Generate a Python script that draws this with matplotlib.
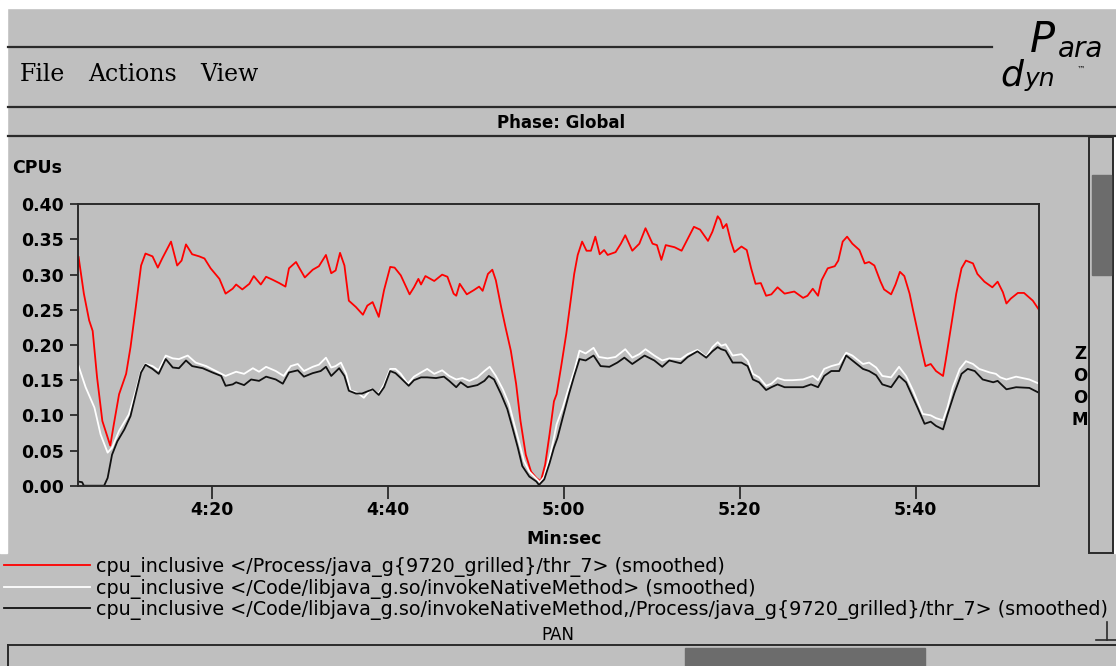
import matplotlib
matplotlib.use("Agg")
import matplotlib.pyplot as plt
from matplotlib.patches import Rectangle
from matplotlib.ticker import FixedLocator, FuncFormatter

# Paradyn histogram: cpu_inclusive, time in seconds since program start
red_t = [244.9, 245.5, 246.1, 246.5, 247.0, 247.6, 248.5, 248.9, 249.5, 250.3, 250.8, 251.4, 252.0, 252.5,
         253.3, 253.9, 254.4, 255.4, 256.1, 256.6, 257.1, 257.8, 258.6, 259.2, 259.9, 260.9, 261.6, 262.4,
         262.8, 263.5, 264.3, 264.8, 265.6, 266.2, 266.9, 267.7, 268.4, 268.8, 269.6, 270.0, 270.6, 271.5,
         272.2, 273.0, 273.6, 274.1, 274.6, 275.1, 275.6, 276.4, 277.2, 277.7, 278.3, 279.0, 279.6, 280.3,
         280.8, 281.5, 282.5, 283.0, 283.5, 283.8, 284.3, 285.3, 286.2, 286.8, 287.5, 287.8, 288.2, 289.0,
         289.8, 290.4, 290.8, 291.4, 291.9, 292.3, 292.9, 293.4, 294.0, 294.6, 295.1, 295.7, 296.3, 296.9,
         297.4, 297.9, 298.4, 298.9, 299.2, 299.7, 300.3, 300.8, 301.2, 301.6, 302.1, 302.6, 303.1, 303.6,
         304.1, 304.6, 305.0, 305.9, 306.5, 307.0, 307.8, 308.6, 309.3, 310.1, 310.6, 311.1, 311.6, 312.6,
         313.4, 314.1, 314.8, 315.5, 316.4, 316.9, 317.5, 317.8, 318.1, 318.5, 319.0, 319.4, 320.2, 320.8,
         321.3, 321.8, 322.4, 323.0, 323.6, 324.3, 325.1, 326.2, 327.2, 327.7, 328.3, 328.9, 329.3, 330.0,
         330.8, 331.2, 331.7, 332.2, 332.8, 333.6, 334.2, 334.7, 335.3, 335.6, 336.0, 336.4, 337.2, 337.7,
         338.2, 338.7, 339.3, 339.7, 340.2, 340.6, 341.1, 341.7, 342.3, 343.1, 343.4, 344.0, 344.6, 345.2,
         345.7, 346.5, 347.0, 347.8, 348.7, 349.3, 349.9, 350.3, 350.8, 351.6, 352.3, 353.3, 354.0]
red_v = [0.325, 0.273, 0.235, 0.220, 0.154, 0.092, 0.057, 0.087, 0.130, 0.159, 0.197, 0.254, 0.313, 0.330,
         0.326, 0.310, 0.323, 0.347, 0.313, 0.320, 0.343, 0.329, 0.326, 0.323, 0.309, 0.294, 0.273, 0.280,
         0.286, 0.279, 0.287, 0.298, 0.286, 0.297, 0.293, 0.288, 0.283, 0.309, 0.318, 0.309, 0.296, 0.307,
         0.312, 0.328, 0.302, 0.306, 0.331, 0.313, 0.263, 0.254, 0.243, 0.256, 0.261, 0.240, 0.278, 0.311,
         0.310, 0.299, 0.272, 0.282, 0.294, 0.286, 0.298, 0.291, 0.300, 0.297, 0.273, 0.270, 0.287, 0.272,
         0.278, 0.283, 0.277, 0.301, 0.307, 0.292, 0.254, 0.225, 0.192, 0.145, 0.092, 0.044, 0.020, 0.011,
         0.006, 0.030, 0.073, 0.120, 0.130, 0.168, 0.216, 0.263, 0.301, 0.328, 0.347, 0.334, 0.334, 0.354,
         0.329, 0.335, 0.328, 0.332, 0.344, 0.356, 0.334, 0.344, 0.366, 0.344, 0.342, 0.321, 0.342, 0.339,
         0.334, 0.351, 0.368, 0.364, 0.348, 0.361, 0.383, 0.378, 0.366, 0.372, 0.347, 0.332, 0.340, 0.335,
         0.309, 0.287, 0.288, 0.270, 0.272, 0.282, 0.273, 0.276, 0.267, 0.270, 0.280, 0.270, 0.292, 0.309,
         0.312, 0.320, 0.347, 0.354, 0.344, 0.335, 0.316, 0.318, 0.313, 0.303, 0.290, 0.279, 0.272, 0.286,
         0.304, 0.298, 0.273, 0.249, 0.220, 0.197, 0.170, 0.173, 0.163, 0.156, 0.178, 0.225, 0.273, 0.309,
         0.320, 0.316, 0.301, 0.290, 0.282, 0.290, 0.275, 0.259, 0.266, 0.274, 0.274, 0.263, 0.250]

white_t = [244.9, 245.7, 246.7, 247.4, 248.2, 248.7, 249.5, 250.6, 251.4, 252.0, 252.5, 253.3, 254.0, 254.8,
           255.6, 256.3, 257.3, 258.2, 259.4, 260.5, 261.6, 262.8, 263.7, 264.7, 265.4, 266.2, 267.3, 268.2,
           269.0, 269.8, 270.5, 271.5, 272.2, 273.0, 273.6, 274.1, 274.7, 275.3, 275.8, 276.6, 277.3, 278.1,
           279.0, 279.6, 280.3, 280.9, 281.5, 282.3, 283.0, 283.8, 284.5, 285.3, 286.2, 287.0, 287.8, 288.5,
           289.3, 290.2, 291.0, 291.6, 292.3, 293.1, 293.8, 294.4, 295.0, 295.5, 296.1, 296.9, 297.3, 297.8,
           298.4, 298.9, 299.2, 299.9, 300.6, 301.2, 301.8, 302.5, 303.4, 304.0, 305.0, 305.9, 307.0, 307.8,
           308.6, 309.3, 310.3, 311.2, 312.0, 313.3, 314.1, 315.2, 316.2, 316.9, 317.5, 317.9, 318.4, 319.2,
           320.2, 320.9, 321.5, 322.2, 323.0, 323.6, 324.3, 325.1, 326.0, 327.2, 328.3, 328.9, 329.6, 330.4,
           331.3, 332.1, 332.8, 334.0, 334.7, 335.5, 336.2, 337.2, 338.1, 338.9, 339.7, 340.2, 340.8, 341.7,
           342.3, 343.1, 343.6, 344.2, 345.0, 345.7, 346.5, 347.2, 348.4, 349.1, 349.6, 350.3, 351.4, 352.9,
           354.0]
white_v = [0.170, 0.140, 0.111, 0.073, 0.047, 0.054, 0.078, 0.101, 0.135, 0.163, 0.173, 0.170, 0.164, 0.185,
           0.181, 0.180, 0.185, 0.175, 0.170, 0.163, 0.156, 0.162, 0.159, 0.167, 0.162, 0.169, 0.163, 0.156,
           0.170, 0.173, 0.163, 0.169, 0.172, 0.182, 0.168, 0.170, 0.175, 0.159, 0.135, 0.132, 0.125, 0.137,
           0.131, 0.144, 0.166, 0.166, 0.159, 0.145, 0.155, 0.161, 0.166, 0.159, 0.164, 0.156, 0.151, 0.153,
           0.149, 0.154, 0.163, 0.169, 0.156, 0.137, 0.116, 0.087, 0.059, 0.035, 0.020, 0.010, 0.005, 0.013,
           0.040, 0.068, 0.087, 0.111, 0.140, 0.163, 0.192, 0.188, 0.196, 0.183, 0.181, 0.183, 0.194, 0.182,
           0.187, 0.194, 0.185, 0.178, 0.181, 0.180, 0.187, 0.193, 0.183, 0.197, 0.204, 0.199, 0.201, 0.185,
           0.187, 0.178, 0.159, 0.154, 0.142, 0.145, 0.153, 0.150, 0.150, 0.151, 0.156, 0.150, 0.166, 0.170,
           0.173, 0.189, 0.185, 0.173, 0.175, 0.168, 0.156, 0.154, 0.169, 0.156, 0.135, 0.120, 0.102, 0.100,
           0.096, 0.093, 0.111, 0.140, 0.166, 0.177, 0.173, 0.166, 0.161, 0.159, 0.154, 0.151, 0.155, 0.151,
           0.145]

black_t = [244.8, 245.3, 245.5, 247.8, 248.2, 248.7, 249.3, 250.1, 250.8, 251.4, 252.0, 252.5, 253.3, 254.0,
           254.8, 255.6, 256.3, 257.1, 257.8, 259.0, 260.1, 261.1, 261.6, 262.4, 262.8, 263.7, 264.5, 265.4,
           266.2, 267.3, 268.1, 268.8, 269.8, 270.5, 271.5, 272.4, 273.0, 273.6, 274.5, 275.1, 275.6, 276.4,
           277.1, 277.7, 278.3, 279.0, 279.6, 280.3, 280.9, 281.5, 282.4, 283.0, 283.8, 284.5, 285.5, 286.4,
           287.0, 287.8, 288.3, 289.1, 290.2, 291.0, 291.5, 292.1, 292.9, 293.6, 294.2, 294.8, 295.3, 296.1,
           296.9, 297.2, 297.8, 298.4, 298.9, 299.3, 299.9, 300.6, 301.2, 301.8, 302.5, 303.4, 304.2, 305.2,
           306.1, 306.9, 307.8, 309.2, 310.3, 311.2, 312.0, 313.3, 314.1, 315.2, 316.2, 316.9, 317.5, 317.9,
           318.4, 319.2, 320.2, 320.9, 321.5, 322.2, 323.0, 323.6, 324.3, 325.1, 326.2, 327.2, 328.1, 328.9,
           329.6, 330.4, 331.3, 332.1, 332.8, 334.0, 334.7, 335.5, 336.2, 337.2, 338.1, 338.9, 339.7, 340.2,
           341.0, 341.7, 342.3, 343.1, 343.6, 344.4, 345.2, 345.9, 346.7, 347.6, 348.8, 349.3, 350.3, 351.4,
           352.9, 354.0]
black_v = [0.006, 0.005, 0.000, 0.000, 0.011, 0.044, 0.063, 0.080, 0.099, 0.130, 0.161, 0.172, 0.166, 0.159,
           0.180, 0.168, 0.167, 0.178, 0.170, 0.167, 0.161, 0.156, 0.142, 0.144, 0.147, 0.143, 0.151, 0.149,
           0.155, 0.151, 0.145, 0.161, 0.164, 0.155, 0.160, 0.163, 0.169, 0.156, 0.167, 0.156, 0.135, 0.131,
           0.131, 0.134, 0.137, 0.129, 0.140, 0.163, 0.160, 0.153, 0.142, 0.150, 0.154, 0.154, 0.153, 0.155,
           0.149, 0.140, 0.147, 0.140, 0.143, 0.149, 0.156, 0.151, 0.130, 0.109, 0.082, 0.054, 0.028, 0.013,
           0.006, 0.001, 0.009, 0.032, 0.054, 0.068, 0.097, 0.130, 0.156, 0.180, 0.178, 0.185, 0.170, 0.169,
           0.175, 0.182, 0.173, 0.185, 0.178, 0.169, 0.178, 0.174, 0.183, 0.191, 0.182, 0.191, 0.197, 0.194,
           0.192, 0.175, 0.175, 0.170, 0.151, 0.147, 0.136, 0.140, 0.144, 0.140, 0.140, 0.140, 0.144, 0.140,
           0.156, 0.163, 0.163, 0.185, 0.178, 0.166, 0.163, 0.157, 0.144, 0.140, 0.156, 0.147, 0.125, 0.111,
           0.088, 0.091, 0.085, 0.080, 0.101, 0.132, 0.159, 0.166, 0.163, 0.151, 0.147, 0.149, 0.137, 0.140,
           0.139, 0.132]

labels = ["cpu_inclusive </Process/java_g{9720_grilled}/thr_7> (smoothed)",
          "cpu_inclusive </Code/libjava_g.so/invokeNativeMethod> (smoothed)",
          "cpu_inclusive </Code/libjava_g.so/invokeNativeMethod,/Process/java_g{9720_grilled}/thr_7> (smoothed)"]
x_ticks = [260, 280, 300, 320, 340]
y_ticks = [0.0, 0.05, 0.10, 0.15, 0.20, 0.25, 0.30, 0.35, 0.40]

W, H = 1116, 666
BG = '#bfbfbf'
DARK = '#2a2a2a'

fig = plt.figure(figsize=(W / 100, H / 100), dpi=100, facecolor=BG)

# window chrome drawn in pixel coordinates
ui = fig.add_axes([0, 0, 1, 1], zorder=0)
ui.set_xlim(0, W)
ui.set_ylim(H, 0)
ui.axis('off')
ui.add_patch(Rectangle((0, 0), W, 8, color='white'))
ui.add_patch(Rectangle((0, 0), 7, 553, color='white'))
ui.add_patch(Rectangle((1114, 137), 2, 416, color='white'))
ui.plot([8, 992], [47, 47], color=DARK, lw=1.6)
ui.plot([8, W], [107, 107], color=DARK, lw=1.6)
ui.plot([8, W], [136, 136], color=DARK, lw=1.6)
for name, x in zip(['File', 'Actions', 'View'], [20, 88, 200]):
    ui.text(x, 81, name, family='DejaVu Serif', fontsize=17, va='baseline', color='black')
# Paradyn logo
ui.text(1030, 52, 'P', family='DejaVu Sans', style='italic', fontsize=30, va='baseline')
ui.text(1058, 57, 'ara', family='DejaVu Sans', style='italic', fontsize=20, va='baseline')
ui.text(1000, 86, 'd', family='DejaVu Sans', style='italic', fontsize=26, va='baseline')
ui.text(1025, 86, 'yn', family='DejaVu Sans', style='italic', fontsize=18, va='baseline')
ui.text(1077, 72, '\u2122', family='DejaVu Sans', fontsize=6, va='baseline')
ui.text(561, 128, 'Phase: Global', family='DejaVu Sans', weight='bold', fontsize=12,
        ha='center', va='baseline')
ui.text(12, 173, 'CPUs', family='DejaVu Sans', weight='bold', fontsize=12.5, va='baseline')
ui.text(564, 544, 'Min:sec', family='DejaVu Sans', weight='bold', fontsize=12.5,
        ha='center', va='baseline')
ui.text(558, 640, 'PAN', family='DejaVu Sans', fontsize=12, ha='center', va='baseline')
for ch, y in zip('ZOOM', [354, 376, 398, 420]):
    ui.text(1080, y, ch, family='DejaVu Sans', weight='bold', fontsize=12, ha='center', va='center')
# vertical zoom scrollbar
ui.add_patch(Rectangle((1089, 137), 24, 416, fill=False, ec=DARK, lw=1.4))
ui.add_patch(Rectangle((1092, 175), 19, 100, color='#6c6c6c'))
ui.plot([1107, 1107], [622, 640], color=DARK, lw=1.2)
ui.plot([1096, W], [640, 640], color=DARK, lw=1.2)
# horizontal pan scrollbar
ui.plot([8, W], [645, 645], color=DARK, lw=1.4)
ui.plot([8, 8], [645, H], color=DARK, lw=1.4)
ui.add_patch(Rectangle((685, 648), 240, 18, color='#6c6c6c'))

# the histogram itself
ax = fig.add_axes([77.7 / W, (H - 485.7) / H, 961.3 / W, 281.4 / H], zorder=2)
ax.set_facecolor(BG)
l1, = ax.plot(red_t, red_v, color='#ff0000', lw=1.3)
l2, = ax.plot(white_t, white_v, color='#ffffff', lw=1.3)
l3, = ax.plot(black_t, black_v, color='#111111', lw=1.3)
ax.set_xlim(244.8, 354.0)
ax.set_ylim(0, 0.40)
for s in ax.spines.values():
    s.set_linewidth(1.4)
    s.set_color(DARK)
ax.xaxis.set_major_locator(FixedLocator(x_ticks))
ax.yaxis.set_major_locator(FixedLocator(y_ticks))
ax.xaxis.set_major_formatter(FuncFormatter(lambda t, p: '%d:%02d' % (t // 60, t % 60)))
ax.yaxis.set_major_formatter(FuncFormatter(lambda v, p: '%.2f' % v))
ax.tick_params(axis='y', length=6, width=1.3, pad=4, labelsize=12.5, color=DARK)
ax.tick_params(axis='x', length=9, width=1.3, pad=2, labelsize=12.5, color=DARK)
for lab in ax.get_xticklabels() + ax.get_yticklabels():
    lab.set_fontweight('bold')

fig.legend([l1, l2, l3], labels, loc='upper left', bbox_to_anchor=(4 / W, 1 - 557 / H),
           frameon=False, fontsize=13.8, handlelength=4.5, handletextpad=0.28,
           labelspacing=0.08, borderpad=0, borderaxespad=0)

fig.savefig('out.png', dpi=100, facecolor=BG)
